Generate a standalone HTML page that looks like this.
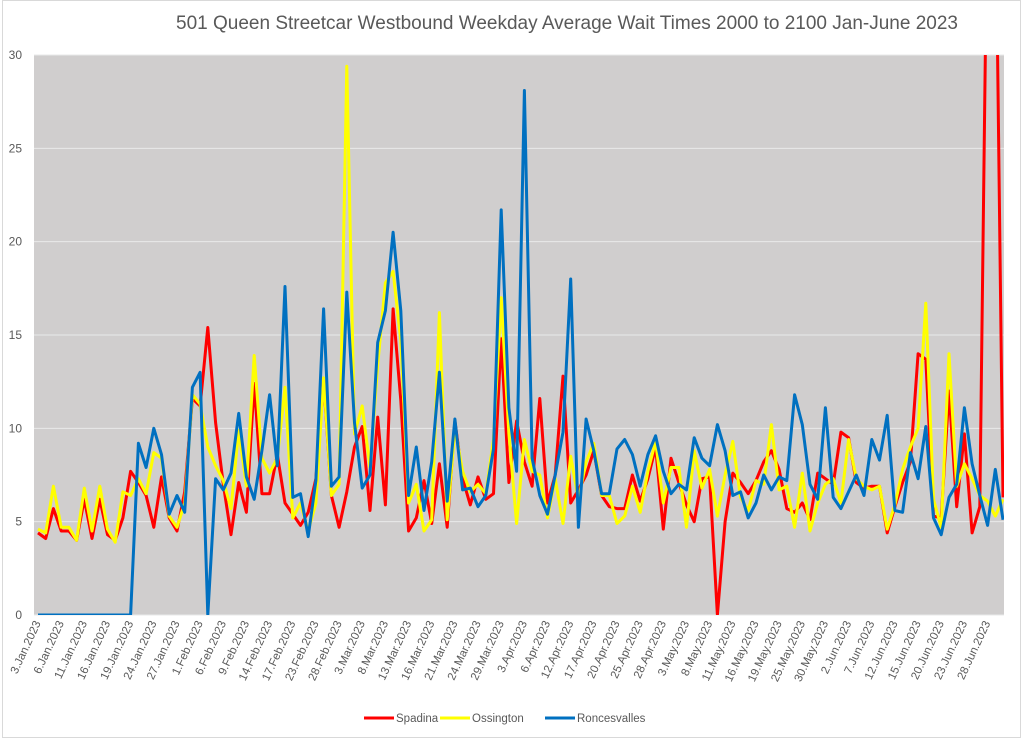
<!DOCTYPE html>
<html><head><meta charset="utf-8">
<style>
html,body{margin:0;padding:0;background:#fff;}
svg{display:block;font-family:"Liberation Sans",sans-serif;}
</style></head>
<body>
<svg id="chart" width="1024" height="739" viewBox="0 0 1024 739" xmlns="http://www.w3.org/2000/svg">
<rect x="2.5" y="0.5" width="1018" height="737" fill="#fff" stroke="#d9d9d9"/>
<text x="567" y="29" text-anchor="middle" font-size="19" fill="#595959">501 Queen Streetcar Westbound Weekday Average Wait Times 2000 to 2100 Jan-June 2023</text>
<rect x="34" y="55" width="970" height="560" fill="#d0cece"/>
<g id="grid"></g>
<g id="yticks"></g>
<g id="xticks"></g>
<defs><clipPath id="clip"><rect x="34" y="55" width="970" height="560"/></clipPath></defs>
<g id="series" clip-path="url(#clip)"></g>
<g id="legend"></g>
</svg>
<script>
const yTicks = [0,5,10,15,20,25,30];
const holidays = ["2023-02-20","2023-04-07","2023-05-22"];
const spadina = [4.4,4.1,5.7,4.5,4.5,4.0,6.2,4.1,6.2,4.3, 4.0,5.2,7.7,7.1,6.4,4.7,7.4,5.2,4.5,6.6, 11.6,11.2,15.4,10.3,7.0,4.3,7.1,5.5,12.4,6.5, 6.5,8.6,6.0,5.4,4.8,5.5,7.3,12.6,6.4,4.7, 6.6,9.0,10.1,5.6,10.6,5.9,16.4,11.5,4.5,5.2, 7.2,4.9,8.1,4.7,10.4,7.3,5.9,7.4,6.2,6.5, 14.8,7.1,10.4,8.2,6.9,11.6,6.0,7.5,12.8,6.0, 6.7,7.5,8.8,6.4,5.8,5.7,5.7,7.5,6.1,7.3, 9.0,4.6,8.4,7.1,5.9,5.0,7.3,7.4,0,5.0, 7.6,7.1,6.5,7.2,8.2,8.8,7.8,5.7,5.5,6.0, 5.1,7.6,7.3,7.0,9.8,9.5,7.1,6.8,6.9,6.9, 4.4,5.8,7.1,8.2,14.0,13.7,5.3,5.2,12.0,5.8, 9.7,4.4,5.8,40,40,6.3];
const ossington = [4.6,4.4,6.9,4.7,4.7,4.0,6.8,4.5,6.9,4.6, 3.9,6.6,6.4,7.3,6.5,8.7,8.4,5.3,4.7,6.0, 11.8,11.3,9.0,8.0,7.2,5.7,9.9,6.9,13.9,8.4, 7.6,8.4,12.2,5.2,6.0,4.5,6.0,12.7,6.4,7.0, 29.4,9.7,11.2,7.9,13.4,17.8,18.4,14.7,6.0,7.0, 4.5,5.1,16.2,5.1,10.0,7.7,6.6,7.0,6.5,9.4, 17.0,9.7,4.9,9.4,7.7,7.5,5.2,7.3,4.9,8.5, 6.2,8.2,9.2,6.4,6.4,4.9,5.3,6.9,5.5,7.7, 9.3,6.0,7.9,7.9,4.7,8.8,6.8,7.8,5.3,7.5, 9.3,6.3,5.6,7.2,7.0,10.2,6.7,6.9,4.7,7.6, 4.5,6.0,7.0,7.3,6.0,9.4,7.3,6.9,6.7,6.9, 4.6,5.9,7.8,9.0,10.0,16.7,6.2,4.7,14.0,6.9, 8.1,7.3,6.4,6.1,5.3,6.2];
const roncesvalles = [0,0,0,0,0,0,0,0,0,0, 0,0,0,9.2,7.9,10.0,8.6,5.4,6.4,5.5, 12.2,13.0,0,7.3,6.7,7.6,10.8,7.4,6.2,8.8, 11.8,8.0,17.6,6.3,6.5,4.2,7.2,16.4,6.9,7.4, 17.3,10.3,6.8,7.5,14.6,16.3,20.5,16.3,6.4,9.0, 5.6,8.2,13.0,6.1,10.5,6.7,6.8,5.8,6.4,8.9, 21.7,11.1,7.7,28.1,8.4,6.4,5.4,7.5,9.8,18.0, 4.7,10.5,8.8,6.5,6.5,8.9,9.4,8.6,6.9,8.6, 9.6,7.7,6.5,7.0,6.7,9.5,8.4,8.0,10.2,8.8, 6.4,6.6,5.2,6.0,7.5,6.7,7.4,7.2,11.8,10.2, 7.0,6.2,11.1,6.3,5.7,6.6,7.5,6.4,9.4,8.3, 10.7,5.6,5.5,8.7,7.3,10.1,5.2,4.3,6.3,7.0, 11.1,8.1,6.4,4.8,7.8,5.1];
const seriesNames = ["Spadina","Ossington","Roncesvalles"];
const seriesColors = ["#ff0000","#ffff00","#0070c0"];

// categories: weekdays Jan 3 - Jun 30 2023 excluding holidays
const categories = [];
(function(){
  const mon=["Jan","Feb","Mar","Apr","May","Jun"];
  let d=new Date(Date.UTC(2023,0,3));
  while(d<=new Date(Date.UTC(2023,5,30))){
    const wd=d.getUTCDay(); const iso=d.toISOString().slice(0,10);
    if(wd>0&&wd<6&&holidays.indexOf(iso)<0) categories.push(d.getUTCDate()+"."+mon[d.getUTCMonth()]+".2023");
    d=new Date(d.getTime()+86400000);
  }
})();

const NS="http://www.w3.org/2000/svg";
const X0=38, X1=1003, Y0=615, Y1=55, YMAX=30;
const n=categories.length;
function xs(i){return X0+(X1-X0)*i/(n-1);}
function ys(v){return Y0-(Y0-Y1)*v/YMAX;}
function mk(tag,attrs,parent){const e=document.createElementNS(NS,tag);for(const k in attrs)e.setAttribute(k,attrs[k]);parent.appendChild(e);return e;}

const grid=document.getElementById('grid'), yt=document.getElementById('yticks');
yTicks.forEach(t=>{
  const l=mk('line',{x1:34,x2:1004,y1:ys(t),y2:ys(t),stroke:'#e9e9e9','stroke-width':1},grid);
  
  
  const tx=mk('text',{x:22,y:ys(t)+4,'text-anchor':'end','font-size':12,fill:'#595959'},yt);
  tx.textContent=t;
  
  
});

const xt=document.getElementById('xticks');
categories.forEach((c,i)=>{
  if(i%3!==0) return;
  const x=xs(i)+3, y=623;
  const tx=mk('text',{x:x,y:y,'text-anchor':'end','font-size':11.5,fill:'#595959',transform:'rotate(-65 '+x+' '+y+')'},xt);
  tx.textContent=c;
  
  
});

const sg=document.getElementById('series');
[spadina,ossington,roncesvalles].forEach((arr,k)=>{
  const pts=arr.map((v,i)=>xs(i).toFixed(1)+","+ys(v).toFixed(1)).join(" ");
  const p=mk('polyline',{points:pts,fill:'none',stroke:seriesColors[k],'stroke-width':3,'stroke-linejoin':'round'},sg);
  
  
});

const lg=document.getElementById('legend');
const lx=[364,440,545];
seriesNames.forEach((s,k)=>{
  const g=mk('g',{},lg);
  
  
  mk('line',{x1:lx[k],x2:lx[k]+30,y1:718,y2:718,stroke:seriesColors[k],'stroke-width':3},g);
  const t=mk('text',{x:lx[k]+32,y:722,'font-size':11.5,fill:'#595959'},g);
  t.textContent=s;
});
</script>
</body></html>
